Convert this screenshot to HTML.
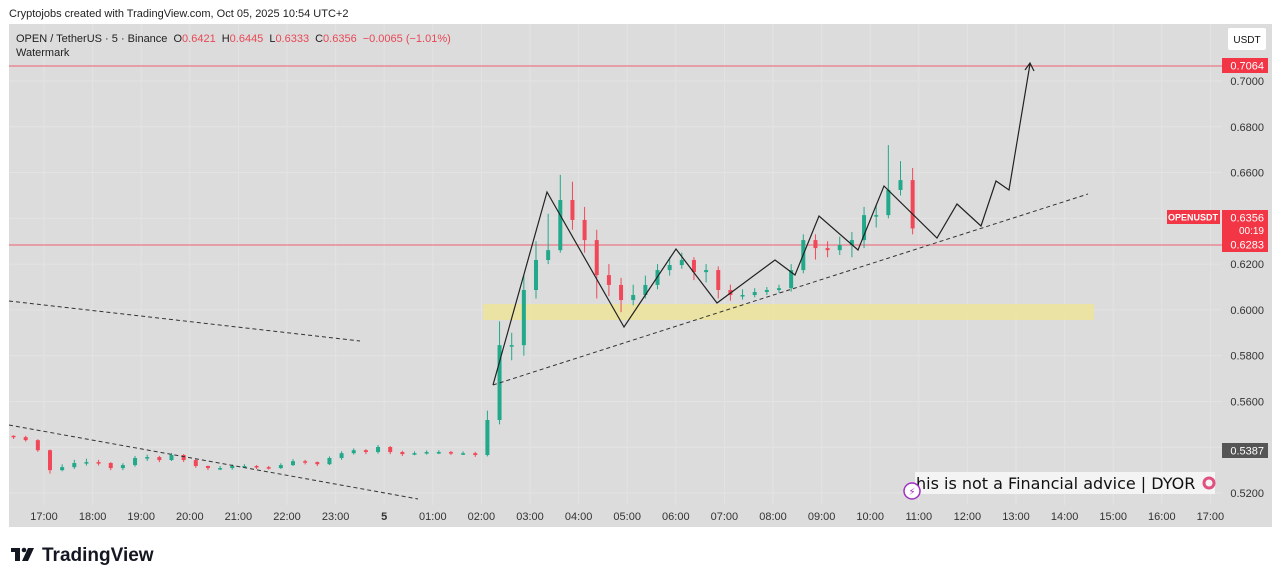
<!DOCTYPE html>
<html><head><meta charset="utf-8"><style>
html,body{margin:0;padding:0;background:#fff;width:1280px;height:581px;overflow:hidden;font-family:"Liberation Sans",sans-serif}
svg text{font-family:"Liberation Sans","DejaVu Sans",sans-serif}
</style></head><body>
<svg id="chart" width="1280" height="581" viewBox="0 0 1280 581" xmlns="http://www.w3.org/2000/svg">
<text x="9" y="17" font-size="11" fill="#222">Cryptojobs created with TradingView.com, Oct 05, 2025 10:54 UTC+2</text>
<rect x="9" y="24" width="1263" height="503" fill="#dcdcdc"/>
<g id="grid"></g>
<rect x="483" y="304" width="611" height="16" fill="#ece39c" opacity="0.9"/>
<line x1="9" y1="66" x2="1222" y2="66" stroke="#f06070" stroke-width="1"/>
<line x1="9" y1="245" x2="1222" y2="245" stroke="#f06070" stroke-width="1"/>
<g id="candles"></g>
<g fill="none" stroke="#333" stroke-width="1" stroke-dasharray="4,3">
<line x1="9" y1="301" x2="360" y2="341"/>
<line x1="9" y1="425" x2="418" y2="499"/>
<line x1="493" y1="385" x2="1088" y2="194"/>
</g>
<polyline points="493,385 547,192 624,327 676,249 717,303 775,260 795,275 819,216 858,250 884,186 937,238 957,204 981,226 996,181 1009,190 1030,64" fill="none" stroke="#222" stroke-width="1.2"/>
<polyline points="1025,70 1030,63 1034,71" fill="none" stroke="#222" stroke-width="1.2"/>
<g id="yaxis"></g>
<g id="xaxis"></g>
<text x="16" y="42" font-size="11" fill="#222">OPEN / TetherUS · 5 · Binance <tspan dx="3">O</tspan><tspan fill="#e84855">0.6421</tspan><tspan dx="6">H</tspan><tspan fill="#e84855">0.6445</tspan><tspan dx="6">L</tspan><tspan fill="#e84855">0.6333</tspan><tspan dx="6">C</tspan><tspan fill="#e84855">0.6356</tspan><tspan dx="6" fill="#e84855">−0.0065 (−1.01%)</tspan></text>
<text x="16" y="56" font-size="11" fill="#222">Watermark</text>
<rect x="1228" y="28" width="38" height="22" rx="2" fill="#fff"/>
<text x="1247" y="43" font-size="10" fill="#111" text-anchor="middle">USDT</text>
<rect x="1222" y="58" width="46" height="15" fill="#f23645"/>
<text x="1264" y="69.5" font-size="11" fill="#fff" text-anchor="end">0.7064</text>
<rect x="1167" y="210" width="53" height="14" fill="#f23645"/>
<text x="1193" y="220.5" font-size="9" font-weight="bold" fill="#fff" text-anchor="middle">OPENUSDT</text>
<rect x="1222" y="210" width="46" height="42" fill="#f23645"/>
<text x="1264" y="221.5" font-size="11" fill="#fff" text-anchor="end">0.6356</text>
<text x="1264" y="234" font-size="10" fill="#fff" text-anchor="end">00:19</text>
<text x="1264" y="248.5" font-size="11" fill="#fff" text-anchor="end">0.6283</text>
<rect x="1222" y="443" width="46" height="15" fill="#555"/>
<text x="1264" y="454.5" font-size="11" fill="#fff" text-anchor="end">0.5387</text>
<rect x="915" y="472" width="300" height="22" fill="#f4f4f4"/>
<text x="916" y="489" font-size="16" fill="#111" style="font-family:'DejaVu Sans',sans-serif">his is not a Financial advice | DYOR</text>
<circle cx="1209" cy="483" r="5" fill="none" stroke="#e05080" stroke-width="3"/>
<circle cx="912" cy="491" r="8" fill="#fff" stroke="#a030c0" stroke-width="1.5"/>
<text x="912" y="495" font-size="10" fill="#a030c0" text-anchor="middle">⚡</text>
<g>
<rect x="11" y="548" width="9" height="4" fill="#131722"/><rect x="15" y="548" width="5" height="13" fill="#131722"/><circle cx="24" cy="550" r="2.3" fill="#131722"/><polygon points="28,548 34,548 28,561 22,561" fill="#131722"/>
<text x="42" y="561" font-size="19" font-weight="bold" fill="#131722">TradingView</text>
</g>
</svg>
<script>
const closes=[.5444,.5431,.5387,.5300,.5313,.5331,.5335,.5331,.5309,.5322,.5353,.5357,.5344,.5366,.5344,.5318,.5309,.5309,.5318,.5318,.5313,.5309,.5322,.5339,.5335,.5326,.5353,.5374,.5387,.5379,.5401,.5379,.5370,.5374,.5379,.5379,.5374,.5374,.5366,.5519,.5846,.5846,.6087,.6218,.6261,.6480,.6393,.6305,.6152,.6109,.6043,.6065,.6109,.6174,.6196,.6218,.6165,.6174,.6087,.6065,.6065,.6078,.6087,.6095,.6174,.6305,.6270,.6261,.6283,.6305,.6414,.6414,.6524,.6567,.6356];
const highs=[.5452,.5450,.5435,.5390,.5325,.5345,.5350,.5345,.5335,.5330,.5362,.5368,.5362,.5375,.5370,.5350,.5320,.5318,.5325,.5326,.5322,.5318,.5330,.5348,.5345,.5338,.5360,.5382,.5395,.5392,.5410,.5405,.5385,.5382,.5386,.5387,.5384,.5382,.5380,.5560,.5950,.5900,.6150,.6300,.6420,.6590,.6560,.6450,.6350,.6200,.6140,.6110,.6150,.6200,.6230,.6250,.6230,.6200,.6190,.6110,.6090,.6095,.6100,.6110,.6200,.6330,.6330,.6300,.6320,.6340,.6450,.6460,.6720,.6650,.6620];
const lows=[.5436,.5425,.5380,.5285,.5295,.5305,.5320,.5320,.5300,.5300,.5315,.5340,.5335,.5340,.5336,.5310,.5300,.5300,.5302,.5310,.5305,.5302,.5305,.5318,.5325,.5318,.5322,.5345,.5368,.5370,.5372,.5370,.5362,.5365,.5368,.5370,.5366,.5366,.5358,.5360,.5500,.5780,.5800,.6050,.6200,.6250,.6350,.6250,.6050,.6060,.5990,.6020,.6050,.6090,.6150,.6180,.6130,.6120,.6050,.6040,.6045,.6055,.6065,.6075,.6080,.6160,.6220,.6230,.6240,.6230,.6270,.6360,.6400,.6500,.6330];
const priceTicks=[0.70,0.68,0.66,0.62,0.60,0.58,0.56,0.52];
const gridPrices=[0.70,0.68,0.66,0.64,0.62,0.60,0.58,0.56,0.54,0.52];
const timeLabels=["17:00","18:00","19:00","20:00","21:00","22:00","23:00","5","01:00","02:00","03:00","04:00","05:00","06:00","07:00","08:00","09:00","10:00","11:00","12:00","13:00","14:00","15:00","16:00","17:00"];
const startHour=-0.75, candleStep=0.25;
const NS="http://www.w3.org/2000/svg";
function y(p){return 81+(0.70-p)/0.02*45.78;}
function x(h){return 44+h*48.6;}
function mk(t,a,parent){const e=document.createElementNS(NS,t);for(const k in a)e.setAttribute(k,a[k]);parent.appendChild(e);return e;}
const grid=document.getElementById('grid');
gridPrices.forEach(p=>{const l=mk('line',{x1:9,x2:1222,y1:y(p),y2:y(p),stroke:'#e3e3e3','stroke-width':1},grid);

});
timeLabels.forEach((t,i)=>{const l=mk('line',{x1:x(i),x2:x(i),y1:24,y2:505,stroke:'#e3e3e3','stroke-width':1},grid);

});
const cg=document.getElementById('candles');
closes.forEach((c,i)=>{const o=i===0?closes[0]+0.0006:closes[i-1];const cx=x(startHour+i*candleStep)+6;
const col=c>=o?'#22a88a':'#f04858';
const w=mk('line',{x1:cx,x2:cx,y1:y(highs[i]),y2:y(lows[i]),stroke:col,'stroke-width':1},cg);


const top=y(Math.max(o,c)),bot=y(Math.min(o,c));
const b=mk('rect',{x:cx-2,y:top,width:4,height:Math.max(1.5,bot-top),fill:col},cg);

});
const ya=document.getElementById('yaxis');
priceTicks.forEach(p=>{const t=mk('text',{x:1264,y:y(p)+4,'font-size':11,fill:'#333','text-anchor':'end'},ya);t.textContent=p.toFixed(4);

});
const xa=document.getElementById('xaxis');
timeLabels.forEach((s,i)=>{const t=mk('text',{x:x(i),y:520,'font-size':11,fill:'#333','text-anchor':'middle','font-weight':s==='5'?'bold':'normal'},xa);t.textContent=s;

});
</script>
</body></html>
